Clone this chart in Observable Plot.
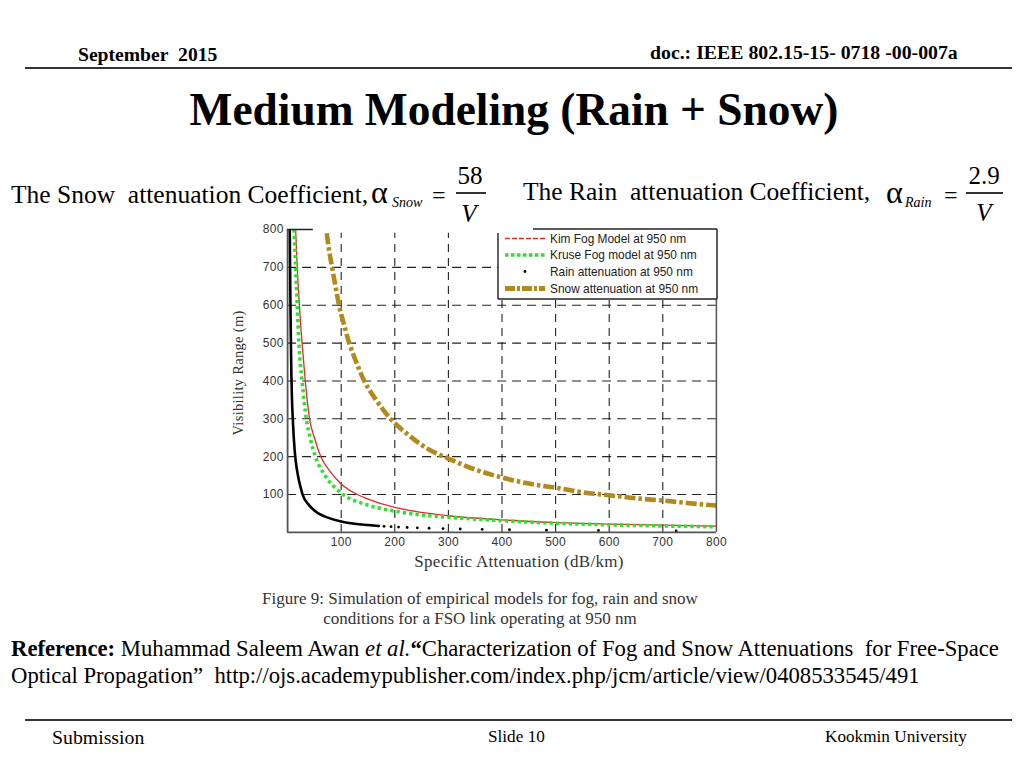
<!DOCTYPE html>
<html>
<head>
<meta charset="utf-8">
<script src="https://cdn.jsdelivr.net/npm/d3@7"></script>
<script src="https://cdn.jsdelivr.net/npm/@observablehq/plot@0.6"></script>
<style>
  html, body { margin: 0; padding: 0; background: #fff; }
  #page { position: relative; width: 1024px; height: 768px; overflow: hidden; background: #fff; }
  .t { position: absolute; white-space: nowrap; line-height: 1; font-family: "Liberation Serif", "Times New Roman", serif; color: #000; }
  .hr { position: absolute; height: 2px; background: #333; }
  #plotbox { position: absolute; left: 200px; top: 200px; }
  #legend { position: absolute; left: 0; top: 0; }
  #plotbox svg text { letter-spacing: 0.3px; }
</style>
</head>
<body>
<div id="page"></div>
<script>
// ---------- data ----------
// Kim fog model at 950 nm: specific attenuation (dB/km) vs visibility (m)
const kimAtt = [15, 18, 22, 27, 33, 41, 50, 62, 80, 100, 130, 150, 200, 250, 300, 400, 500, 600, 700, 800];
const kimVis = [800, 700, 600, 500, 400, 300, 250, 200, 160, 128, 100, 88, 66, 53, 44, 33, 26, 22, 19, 16.5];
// Kruse fog model at 950 nm
const kruseAtt = [12, 15, 18, 21, 27, 35, 42, 52, 70, 100, 150, 200, 250, 300, 400, 500, 600, 700, 800];
const kruseVis = [800, 700, 600, 500, 400, 300, 250, 200, 150, 104, 72, 56, 46, 40, 31, 24, 20, 17, 15];
// Rain attenuation at 950 nm (dense part, drawn as a run of dots)
const rainAtt = [4, 5, 6, 7, 8, 10, 13, 15, 20, 25, 28, 40, 50, 60, 75, 100, 125, 150, 170];
const rainVis = [800, 640, 520, 420, 360, 290, 220, 190, 145, 115, 100, 72, 58, 48, 39, 29, 23, 19.5, 17];
// Rain attenuation: sparse single dots
const rainDotAtt = [180, 193, 207, 223, 242, 264, 290, 322, 363, 414, 483, 580, 725];
const rainDotVis = [16, 15, 14, 13, 12, 11, 10, 9, 8, 7, 6, 5, 4];
// Snow attenuation at 950 nm
const snowAtt = [73, 78, 83, 90, 96, 105, 115, 128, 143, 165, 192, 225, 260, 300, 350, 400, 450, 500, 550, 600, 650, 700, 750, 800];
const snowVis = [790, 740, 700, 645, 600, 550, 500, 450, 400, 350, 300, 258, 222, 195, 166, 145, 129, 118, 106, 98, 90, 84, 77, 71];

const xTicks = [100, 200, 300, 400, 500, 600, 700, 800];
const yTicks = [100, 200, 300, 400, 500, 600, 700, 800];
const gridTicks = [100, 200, 300, 400, 500, 600, 700];

const legendLabels = ["Kim Fog Model at 950 nm", "Kruse Fog model at 950 nm", "Rain attenuation at 950 nm", "Snow attenuation at 950 nm"];
const xLabel = "Specific Attenuation (dB/km)";
const yLabel = "Visibility Range (m)";

// ---------- slide texts ----------
const page = document.getElementById("page");
const SERIF = '"Liberation Serif", "Times New Roman", serif';
function txt(s, x, baseline, size, opts = {}) {
  const d = document.createElement("div");
  d.className = "t";
  d.style.fontSize = size + "px";
  d.style.top = (baseline - 0.8375 * size) + "px";
  d.style.left = x + "px";
  if (opts.anchor === "middle") d.style.transform = "translateX(-50%)";
  if (opts.weight) d.style.fontWeight = opts.weight;
  if (opts.italic) d.style.fontStyle = "italic";
  if (opts.color) d.style.color = opts.color;
  if (opts.html) d.innerHTML = s; else d.textContent = s;
  page.appendChild(d);
  return d;
}
function hr(x1, x2, y, h = 2) {
  const d = document.createElement("div");
  d.className = "hr";
  d.style.left = x1 + "px"; d.style.width = (x2 - x1) + "px"; d.style.top = (y - h / 2) + "px"; d.style.height = h + "px";
  page.appendChild(d);
}

txt("September&nbsp; 2015", 78, 61, 19.6, {weight: "bold", html: true});
txt("doc.: IEEE 802.15-15- 0718 -00-007a", 650, 60, 19.8, {weight: "bold"});
hr(25, 1012, 68, 2);
txt("Medium Modeling (Rain + Snow)", 514, 126, 45.4, {weight: "bold", anchor: "middle"});

txt("The Snow&nbsp; attenuation Coefficient,", 11, 203, 25.5, {html: true});
txt("α", 371, 203, 32);
txt("Snow", 392, 208, 14, {italic: true});
txt("=", 432, 203, 24);
txt("58", 470, 184, 25, {anchor: "middle"});
hr(456, 486, 193, 1.5);
txt("V", 469, 222, 25, {anchor: "middle", italic: true});

txt("The Rain&nbsp; attenuation Coefficient,", 523, 200, 25.5, {html: true});
txt("α", 886, 203, 32);
txt("Rain", 905, 208, 14, {italic: true});
txt("=", 944, 203, 24);
txt("2.9", 984, 184, 25, {anchor: "middle"});
hr(966, 1003, 193, 1.5);
txt("V", 984, 221, 25, {anchor: "middle", italic: true});

txt("Figure 9: Simulation of empirical models for fog, rain and snow", 480, 604, 17, {anchor: "middle", color: "#333"});
txt("conditions for a FSO link operating at 950 nm", 480, 624, 17, {anchor: "middle", color: "#333"});

txt("<b>Reference:</b> Muhammad Saleem Awan <i>et al.</i><b>“</b>Characterization of Fog and Snow Attenuations&nbsp; for Free-Space", 11, 657, 22.7, {html: true});
txt("Optical Propagation”&nbsp; http://ojs.academypublisher.com/index.php/jcm/article/view/0408533545/491", 11, 684, 22.7, {html: true});

hr(25, 1012, 720, 2);
txt("Submission", 52, 745, 19.8);
txt("Slide 10", 488, 742, 17.2);
txt("Kookmin University", 825, 742, 17.2);

// ---------- chart ----------
const rows = (xs, ys) => xs.map((x, i) => ({x, y: ys[i]}));
const kim = rows(kimAtt, kimVis);
const kruse = rows(kruseAtt, kruseVis);
const rain = rows(rainAtt, rainVis);
const rainDots = rows(rainDotAtt, rainDotVis);
const snow = rows(snowAtt, snowVis);

const GOLD = "#b3891b";
const GREEN = "#2fe02f";
const RED = "#e02a2a";
const FRAME = "#555";

const chart = Plot.plot({
  width: 540,
  height: 380,
  marginLeft: 87.1,
  marginRight: 24.1,
  marginTop: 29,
  marginBottom: 48.1,
  x: {domain: [0, 800]},
  y: {domain: [0, 800]},
  style: {fontFamily: '"Liberation Sans", Arial, sans-serif', fontSize: "12px", color: "#333", background: "transparent", overflow: "visible"},
  marks: [
    Plot.ruleX(gridTicks, {x: d => d, y1: 0, y2: 790, stroke: "#222", strokeWidth: 1.1, strokeDasharray: "8,6"}),
    Plot.ruleY(gridTicks, {y: d => d, x1: 0, x2: 800, stroke: "#222", strokeWidth: 1.1, strokeDasharray: "9,6"}),
    Plot.line(rain, {x: "x", y: "y", stroke: "#000", strokeWidth: 2.6, curve: "monotone-x", clip: true}),
    Plot.dot(rainDots, {x: "x", y: "y", r: 1.4, fill: "#000", stroke: null}),
    Plot.line(kim, {x: "x", y: "y", stroke: RED, strokeWidth: 1.3, curve: "monotone-x", clip: true}),
    Plot.line(kruse, {x: "x", y: "y", stroke: GREEN, strokeWidth: 3.6, strokeDasharray: "3.2,3.2", strokeLinecap: "butt", curve: "monotone-x", clip: true}),
    Plot.line(snow, {x: "x", y: "y", stroke: GOLD, strokeWidth: 4.6, strokeDasharray: "11,3,3.5,3", strokeLinecap: "butt", curve: "monotone-x", clip: true}),
    // frame (top edge partly hidden in the reference)
    Plot.ruleX([0], {y1: 0, y2: 800, stroke: FRAME, strokeWidth: 1.8}),
    Plot.ruleX([800], {y1: 0, y2: 800, stroke: FRAME, strokeWidth: 1.5}),
    Plot.ruleY([0], {x1: 0, x2: 800, stroke: FRAME, strokeWidth: 1.8}),
    Plot.ruleY([800], {x1: 0, x2: 48, stroke: "#222", strokeWidth: 1.5}),
    Plot.axisX({ticks: xTicks, tickSize: 0, tickPadding: 5, label: null, fill: "#333"}),
    Plot.axisY({ticks: yTicks, tickSize: 0, tickPadding: 4, label: null, fill: "#333"}),
    Plot.text([xLabel], {frameAnchor: "bottom", dx: 17, dy: 29, text: d => d, fontFamily: SERIF, fontSize: 17, fill: "#333", textAnchor: "middle", lineAnchor: "middle"}),
    Plot.text([yLabel], {frameAnchor: "left", rotate: -90, dx: -49, dy: -8, text: d => d, fontFamily: SERIF, fontSize: 14.5, fill: "#333", textAnchor: "middle", lineAnchor: "middle"})
  ]
});
const box = document.createElement("div");
box.id = "plotbox";
box.appendChild(chart);
page.appendChild(box);

// ---------- legend (overlay) ----------
const ns = "http://www.w3.org/2000/svg";
const lg = document.createElementNS(ns, "svg");
lg.setAttribute("id", "legend");
lg.setAttribute("width", 1024);
lg.setAttribute("height", 768);
page.appendChild(lg);
function el(name, attrs) {
  const e = document.createElementNS(ns, name);
  for (const k in attrs) e.setAttribute(k, attrs[k]);
  lg.appendChild(e);
  return e;
}
const L = 498, R = 717, T = 229, B = 299;
el("rect", {x: L, y: T, width: R - L, height: B - T, fill: "#fff"});
el("line", {x1: 533, x2: R, y1: T, y2: T, stroke: "#222", "stroke-width": 1.4});
el("line", {x1: L, x2: L, y1: 233, y2: B, stroke: "#222", "stroke-width": 1.4});
el("line", {x1: L, x2: R, y1: B, y2: B, stroke: "#222", "stroke-width": 1.4});
el("line", {x1: R, x2: R, y1: T, y2: B, stroke: "#222", "stroke-width": 1.4});
const rowsY = [238.5, 255, 271.5, 288.5];
el("line", {x1: 505, x2: 545, y1: rowsY[0], y2: rowsY[0], stroke: RED, "stroke-width": 1.6, "stroke-dasharray": "5,2"});
el("line", {x1: 505, x2: 545, y1: rowsY[1], y2: rowsY[1], stroke: GREEN, "stroke-width": 3.6, "stroke-dasharray": "3.5,2.5"});
el("circle", {cx: 525, cy: rowsY[2], r: 1.4, fill: "#000"});
el("line", {x1: 505, x2: 545, y1: rowsY[3], y2: rowsY[3], stroke: GOLD, "stroke-width": 5, "stroke-dasharray": "10,2,3,2"});
legendLabels.forEach((s, i) => {
  const t = el("text", {x: 550, y: rowsY[i], "dominant-baseline": "central", "font-family": '"Liberation Sans", Arial, sans-serif', "font-size": 11.9, fill: "#222"});
  t.textContent = s;
});
</script>
</body>
</html>
